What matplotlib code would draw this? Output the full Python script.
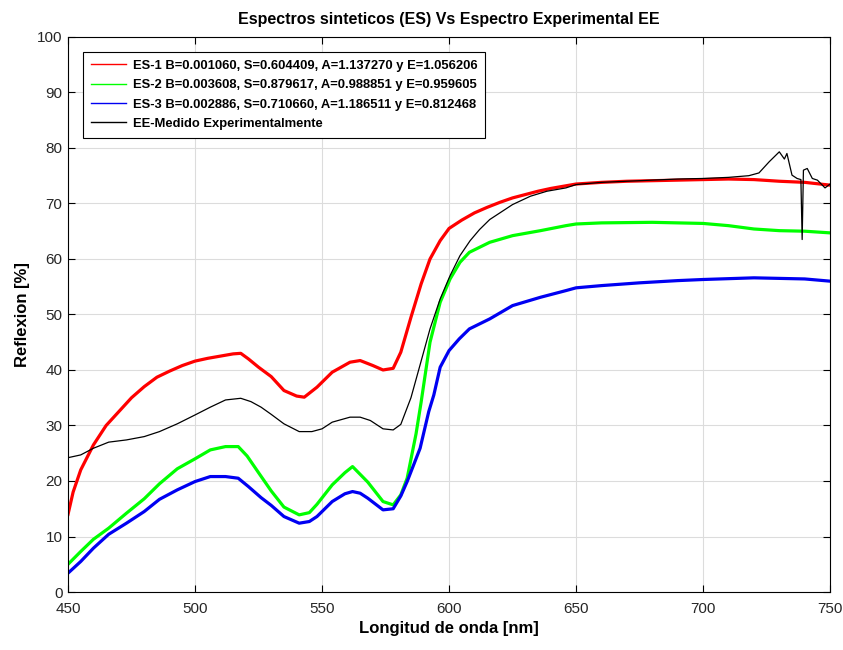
import matplotlib
matplotlib.use("Agg")
import matplotlib.pyplot as plt

# valeurs
x_es1 = [450, 452, 455, 460, 465, 470, 475, 480, 485, 490, 495, 500, 505, 510, 515, 518,
         521, 525, 530, 535, 540, 543, 548, 554, 561, 565, 570, 574, 578, 581, 585, 589,
         592.5, 596.5, 600, 605, 610, 615, 620, 625, 630, 635, 640, 645, 650, 660, 670,
         680, 690, 700, 710, 720, 730, 740, 750]
y_es1 = [14, 18, 22, 26.5, 30, 32.5, 35, 37, 38.7, 39.8, 40.8, 41.6, 42.1, 42.5, 42.9, 43,
         42, 40.5, 38.8, 36.3, 35.3, 35.1, 36.9, 39.6, 41.4, 41.7, 40.8, 40, 40.3, 43.2, 49.5,
         55.5, 60, 63.3, 65.5, 67, 68.3, 69.3, 70.2, 71, 71.6, 72.2, 72.7, 73.1, 73.5, 73.8,
         74, 74.1, 74.2, 74.3, 74.4, 74.3, 74, 73.8, 73.3]

x_es2 = [450, 455, 460, 466, 473, 480, 486, 493, 500, 506, 512, 517, 520.5, 525, 530, 535,
         541, 545, 548, 554, 559, 562, 565, 568, 574, 578, 581, 583.5, 587, 589, 592.5,
         596.5, 600.4, 604.3, 608, 616, 625, 636, 646, 650, 660, 680, 700, 710, 720, 730,
         740, 750]
y_es2 = [5, 7.3, 9.5, 11.5, 14.2, 16.8, 19.5, 22.2, 24, 25.6, 26.2, 26.2, 24.5, 21.5, 18.2,
         15.3, 13.9, 14.3, 15.8, 19.3, 21.5, 22.6, 21.2, 19.8, 16.3, 15.7, 17.5, 20.5, 28.5,
         34.2, 45, 52.2, 56.4, 59.4, 61.2, 63, 64.2, 65.1, 66, 66.3, 66.5, 66.6, 66.4, 66,
         65.4, 65.1, 65, 64.7]

x_es3 = [450, 455, 460, 466, 473, 480, 486, 493, 500, 506, 512, 517, 521, 526, 530, 535,
         541, 545, 548, 554, 559, 562, 565, 568, 574, 578, 581, 583.5, 588.6, 592, 594,
         596.5, 600, 604, 608, 616, 625, 636, 646, 650, 660, 675, 690, 700, 720, 740, 750]
y_es3 = [3.4, 5.5, 7.9, 10.4, 12.4, 14.5, 16.7, 18.4, 19.9, 20.8, 20.8, 20.5, 19, 17, 15.6,
         13.6, 12.4, 12.7, 13.6, 16.3, 17.7, 18.1, 17.8, 16.9, 14.8, 15, 17.3, 19.9, 25.9,
         32.5, 35.5, 40.5, 43.5, 45.6, 47.4, 49.2, 51.6, 53.1, 54.3, 54.8, 55.2, 55.7, 56.1,
         56.3, 56.6, 56.4, 56]

x_ee = [450, 455, 460, 466, 473, 480, 486, 493, 500, 506, 512, 518, 522, 526, 530, 535,
        541, 546, 550, 554, 561, 565, 569, 574, 578, 581, 585, 589, 592.5, 596.5, 600.4,
        604.3, 608.3, 612, 616, 620, 625, 632, 638.5, 646, 650, 660, 670, 680, 690, 700,
        710, 718, 722, 726, 728, 730, 732, 733, 735, 737, 738.5, 739, 739.5, 741, 743,
        745, 748, 750]
y_ee = [24.2, 24.7, 25.9, 27, 27.4, 28, 28.9, 30.3, 31.9, 33.3, 34.6, 34.9, 34.3, 33.3, 32,
        30.3, 28.9, 28.9, 29.4, 30.6, 31.5, 31.5, 30.9, 29.4, 29.2, 30.2, 35, 41.6, 47.4,
        52.8, 57, 60.6, 63.3, 65.3, 67.1, 68.3, 69.8, 71.3, 72.2, 72.8, 73.4, 73.8, 74,
        74.2, 74.4, 74.5, 74.7, 75, 75.5, 77.5, 78.4, 79.3, 78, 79, 75.1, 74.5, 74.3, 63.5,
        76, 76.3, 74.5, 74.2, 72.8, 73.5]

labels = ["ES-1 B=0.001060, S=0.604409, A=1.137270 y E=1.056206",
          "ES-2 B=0.003608, S=0.879617, A=0.988851 y E=0.959605",
          "ES-3 B=0.002886, S=0.710660, A=1.186511 y E=0.812468",
          "EE-Medido Experimentalmente"]

plt.rcParams['font.family'] = ['Liberation Sans', 'DejaVu Sans']

fig = plt.figure(figsize=(8.43, 6.5), dpi=100)
ax = fig.add_axes([0.0807, 0.0892, 0.904, 0.854])

ax.plot(x_es1, y_es1, color=(1, 0, 0), lw=2.3, label=labels[0])
ax.plot(x_es2, y_es2, color=(0, 1, 0), lw=2.3, label=labels[1])
ax.plot(x_es3, y_es3, color=(0, 0, 0.95), lw=2.3, label=labels[2])
ax.plot(x_ee, y_ee, color='black', lw=0.9, label=labels[3])

ax.set_xlim(450, 750)
ax.set_ylim(0, 100)
ax.set_xticks(range(450, 751, 50))
ax.set_yticks(range(0, 101, 10))
ax.grid(True, color='#dcdcdc', lw=0.8)
ax.set_axisbelow(True)
ax.tick_params(direction='in', top=True, right=True, length=5, width=0.8,
               labelsize=11, labelcolor='#262626')
ax.tick_params(axis='x', pad=7)
ax.tick_params(axis='y', pad=4)
for s in ax.spines.values():
    s.set_linewidth(0.8)

ax.set_title("Espectros sinteticos (ES) Vs Espectro Experimental EE",
             fontsize=11.5, fontweight='bold', pad=9)
ax.set_xlabel("Longitud de onda [nm]", fontsize=12, fontweight='bold', labelpad=4)
ax.set_ylabel("Reflexion [%]", fontsize=12, fontweight='bold', labelpad=5)

leg = ax.legend(loc='upper left', bbox_to_anchor=(0.0197, 0.973), borderaxespad=0,
                fancybox=False, framealpha=1, edgecolor='black', handlelength=2.7,
                handletextpad=0.5, prop={'size': 9.4, 'weight': 'bold'},
                borderpad=0.6, labelspacing=0.55)
leg.get_frame().set_linewidth(0.8)
for h in leg.get_lines():
    h.set_linewidth(1.0)

fig.savefig("out.png", dpi=100)
